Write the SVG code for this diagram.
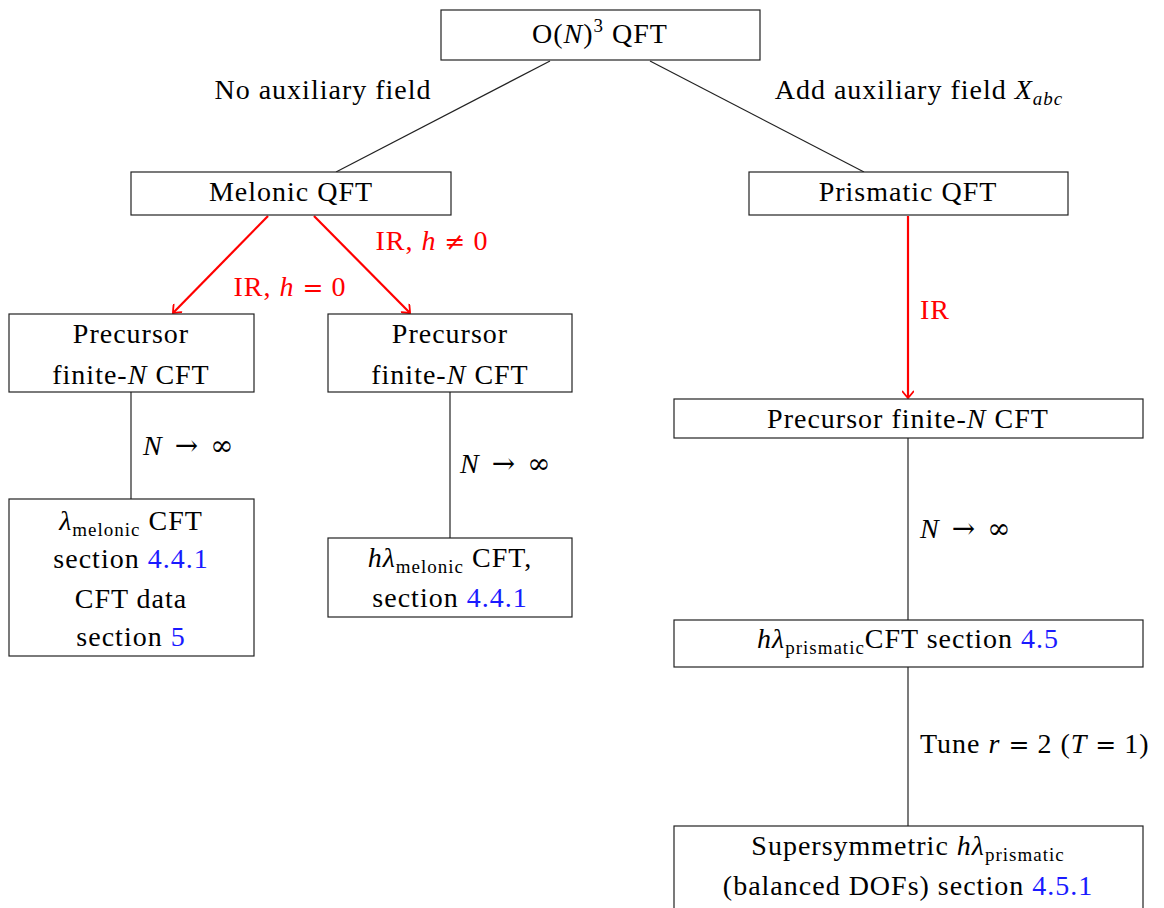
<svg xmlns="http://www.w3.org/2000/svg" width="1164" height="908" viewBox="0 0 1164 908">
<style>
text{font-family:"Liberation Serif","Times New Roman",serif;font-size:28px;fill:#000;letter-spacing:1px}
.c{text-anchor:middle}
.i{font-style:italic}
.m{font-family:"DejaVu Serif",serif;font-size:25px;letter-spacing:0}
.ma{font-family:"DejaVu Serif",serif;font-size:28px;letter-spacing:0}
.sub{font-size:19px}
.red{fill:#ff0000}
.blue{fill:#1a1aff}
.box{fill:#fff;stroke:#222;stroke-width:1.2}
.ln{stroke:#222;stroke-width:1.2;fill:none}
.ar{stroke:#ff0000;stroke-width:2.2;fill:none;marker-end:url(#ah)}
</style>
<defs>
<marker id="ah" viewBox="-8 -6 10 12" refX="0" refY="0" markerWidth="10" markerHeight="12" markerUnits="userSpaceOnUse" orient="auto">
<path d="M -6.5 -5.5 Q -1.5 -1.5 0 0 Q -1.5 1.5 -6.5 5.5" stroke="#ff0000" stroke-width="1.8" fill="none" stroke-linecap="round"/>
</marker>
</defs>
<rect width="1164" height="908" fill="#fff"/>

<g id="connectors">
<line class="ln" x1="550" y1="61" x2="336" y2="172"/>
<line class="ln" x1="650" y1="61" x2="864" y2="172"/>
<line class="ar" x1="268" y1="216" x2="173" y2="313"/>
<line class="ar" x1="314" y1="216" x2="410" y2="313"/>
<line class="ar" x1="908" y1="216" x2="908" y2="398"/>
<line class="ln" x1="131" y1="392" x2="131" y2="499"/>
<line class="ln" x1="450" y1="392" x2="450" y2="538"/>
<line class="ln" x1="908" y1="438" x2="908" y2="620"/>
<line class="ln" x1="908" y1="667" x2="908" y2="826"/>
<text x="323" y="99" class="c">No auxiliary field</text>
<text x="919" y="99" class="c">Add auxiliary field <tspan class="i">X</tspan><tspan class="i sub" dy="6">abc</tspan></text>
<text x="432" y="250" class="c red">IR, <tspan class="i">h</tspan> <tspan class="m">≠</tspan> 0</text>
<text x="290" y="296" class="c red">IR, <tspan class="i">h</tspan> <tspan class="m">=</tspan> 0</text>
<text x="920" y="319" class="red">IR</text>
<text x="143" y="455"><tspan class="i">N</tspan><tspan class="ma" dx="12">→</tspan><tspan class="ma" dx="12">∞</tspan></text>
<text x="460" y="473"><tspan class="i">N</tspan><tspan class="ma" dx="12">→</tspan><tspan class="ma" dx="12">∞</tspan></text>
<text x="920" y="538"><tspan class="i">N</tspan><tspan class="ma" dx="12">→</tspan><tspan class="ma" dx="12">∞</tspan></text>
<text x="920" y="753">Tune <tspan class="i">r</tspan> <tspan class="m">=</tspan> 2 (<tspan class="i">T</tspan> <tspan class="m">=</tspan> 1)</text>
</g>

<g id="n-top">
<rect class="box" x="441" y="10" width="319" height="50"/>
<text x="600" y="43" class="c">O(<tspan class="i">N</tspan>)<tspan class="sub" dy="-11">3</tspan><tspan dy="11"> QFT</tspan></text>
</g>

<g id="n-melonic">
<rect class="box" x="131" y="172" width="320" height="43"/>
<text x="291" y="201" class="c">Melonic QFT</text>
</g>

<g id="n-prismatic">
<rect class="box" x="749" y="172" width="319" height="43"/>
<text x="908" y="201" class="c">Prismatic QFT</text>
</g>

<g id="n-prec-left">
<rect class="box" x="9" y="314" width="245" height="78"/>
<text x="131" y="343" class="c">Precursor</text>
<text x="131" y="384" class="c">finite-<tspan class="i">N</tspan> CFT</text>
</g>

<g id="n-prec-right">
<rect class="box" x="328" y="314" width="244" height="78"/>
<text x="450" y="343" class="c">Precursor</text>
<text x="450" y="384" class="c">finite-<tspan class="i">N</tspan> CFT</text>
</g>

<g id="n-lambda-melonic">
<rect class="box" x="9" y="499" width="245" height="157"/>
<text x="131" y="530" class="c"><tspan class="i">λ</tspan><tspan class="sub" dy="6">melonic</tspan><tspan dy="-6"> CFT</tspan></text>
<text x="131" y="568" class="c">section <tspan class="blue">4.4.1</tspan></text>
<text x="131" y="608" class="c">CFT data</text>
<text x="131" y="646" class="c">section <tspan class="blue">5</tspan></text>
</g>

<g id="n-hlambda-melonic">
<rect class="box" x="328" y="538" width="244" height="79"/>
<text x="450" y="567" class="c"><tspan class="i">hλ</tspan><tspan class="sub" dy="6">melonic</tspan><tspan dy="-6"> CFT,</tspan></text>
<text x="450" y="607" class="c">section <tspan class="blue">4.4.1</tspan></text>
</g>

<g id="n-prec-long">
<rect class="box" x="674" y="399" width="469" height="39"/>
<text x="908" y="428" class="c">Precursor finite-<tspan class="i">N</tspan> CFT</text>
</g>

<g id="n-hlambda-prismatic">
<rect class="box" x="674" y="620" width="469" height="47"/>
<text x="908" y="648" class="c"><tspan class="i">hλ</tspan><tspan class="sub" dy="6">prismatic</tspan><tspan dy="-6">CFT section </tspan><tspan class="blue">4.5</tspan></text>
</g>

<g id="n-susy">
<rect class="box" x="674" y="826" width="469" height="100"/>
<text x="908" y="855" class="c">Supersymmetric <tspan class="i">hλ</tspan><tspan class="sub" dy="6">prismatic</tspan></text>
<text x="908" y="895" class="c">(balanced DOFs) section <tspan class="blue">4.5.1</tspan></text>
</g>
</svg>
